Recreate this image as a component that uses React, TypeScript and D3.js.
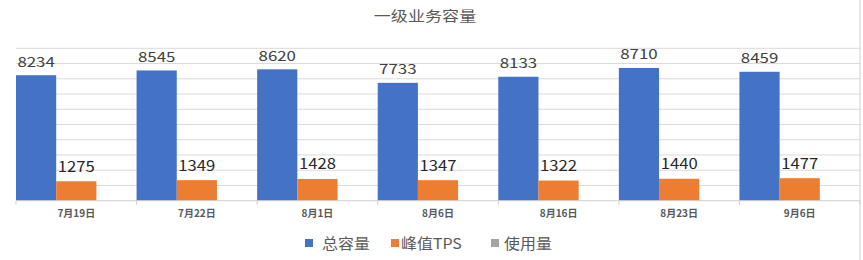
import React from "react";
import * as d3 from "d3";

const categories = ["7月19日", "7月22日", "8月1日", "8月6日", "8月16日", "8月23日", "9月6日"];
const seriesNames = ["总容量", "峰值TPS", "使用量"];
const totalCapacity = [8234, 8545, 8620, 7733, 8133, 8710, 8459];
const peakTps = [1275, 1349, 1428, 1347, 1322, 1440, 1477];
const usage: (number | null)[] = [null, null, null, null, null, null, null];
const yTicks = [0, 1000, 2000, 3000, 4000, 5000, 6000, 7000, 8000, 9000, 10000];
const colors = ["#4472C4", "#ED7D31", "#A5A5A5"];

const W = 863;
const H = 260;
const FONT = "'Noto Sans CJK SC', 'Noto Sans', sans-serif";

function SText(props: {
  x: number; y: number; sx?: number; size: number; fill: string; anchor?: string; weight?: number | string; children: React.ReactNode;
}) {
  const { x, y, sx = 1, size, fill, anchor = "middle", weight = 400, children } = props;
  return (
    <text
      transform={`translate(${x},${y}) scale(${sx},1)`}
      fontSize={size}
      fill={fill}
      textAnchor={anchor}
      fontFamily={FONT}
      fontWeight={weight}
    >
      {children}
    </text>
  );
}

export default function App() {
  const x = d3.scaleBand<string>().domain(categories).range([16, 860]).padding(0);
  const inner = d3.scaleBand<string>().domain(seriesNames).range([0, x.bandwidth()]).padding(0);
  const y = d3.scaleLinear().domain([0, 10000]).range([200.7, 48.3]);
  const seriesData = [totalCapacity, peakTps, usage];

  const legendItems = [
    { name: seriesNames[0], sq: 305, tx: 322 },
    { name: seriesNames[1], sq: 391, tx: 401 },
    { name: seriesNames[2], sq: 491, tx: 504 },
  ];

  return (
    <svg
      width={W}
      height={H}
      style={{ position: "absolute", left: 0, top: 0, display: "block", background: "#fff" }}
    >
      <rect x={0} y={0} width={W} height={H} fill="#fff" />
      {/* gridlines */}
      {yTicks.slice(1).map((t) => (
        <line key={t} x1={16} x2={860} y1={y(t)} y2={y(t)} stroke="#DADADA" strokeWidth={1} />
      ))}
      {/* right border */}
      <line x1={860} x2={860} y1={0} y2={H} stroke="#D0D0D0" strokeWidth={1} />
      {/* bars */}
      {seriesData.map((data, si) =>
        data.map((v, ci) =>
          v == null || v === 0 ? null : (
            <rect
              key={`${si}-${ci}`}
              x={(x(categories[ci]) as number) + (inner(seriesNames[si]) as number)}
              y={y(v)}
              width={inner.bandwidth()}
              height={y(0) - y(v)}
              fill={colors[si]}
            />
          )
        )
      )}
      {/* axis line */}
      <line x1={16} x2={860} y1={y(0)} y2={y(0)} stroke="#D0D0D0" strokeWidth={1} />
      {categories.map((c, i) => (
        <line key={`tick-${i}`} x1={x(c) as number} x2={x(c) as number} y1={y(0)} y2={y(0) + 4} stroke="#D0D0D0" />
      ))}
      <line x1={860} x2={860} y1={y(0)} y2={y(0) + 4} stroke="#D0D0D0" />
      {/* x labels */}
      {categories.map((c) => (
        <SText key={`xl-${c}`} x={(x(c) as number) + x.bandwidth() / 2} y={217} size={10} fill="#595959" weight={600}>
          {c}
        </SText>
      ))}
      {/* data labels */}
      {totalCapacity.map((v, i) => (
        <SText
          key={`lb0-${i}`}
          x={(x(categories[i]) as number) + (inner(seriesNames[0]) as number) + inner.bandwidth() / 2}
          y={y(v) - 8.5}
          size={13.5}
          sx={1.25}
          fill="#404040"
        >
          {v}
        </SText>
      ))}
      {peakTps.map((v, i) => (
        <SText
          key={`lb1-${i}`}
          x={(x(categories[i]) as number) + (inner(seriesNames[1]) as number) + inner.bandwidth() / 2}
          y={y(v) - 9.5}
          size={14.5}
          sx={1.15}
          fill="#262626"
        >
          {v}
        </SText>
      ))}
      {/* title */}
      <SText x={425} y={21} size={14} sx={1.22} fill="#595959">
        一级业务容量
      </SText>
      {/* legend */}
      {legendItems.map((it, i) => (
        <g key={`lg-${i}`}>
          <rect x={it.sq} y={239} width={8} height={8} fill={colors[i]} />
          <SText x={it.tx} y={248.5} size={14.5} sx={1.1} fill="#595959" anchor="start">
            {it.name}
          </SText>
        </g>
      ))}
    </svg>
  );
}
